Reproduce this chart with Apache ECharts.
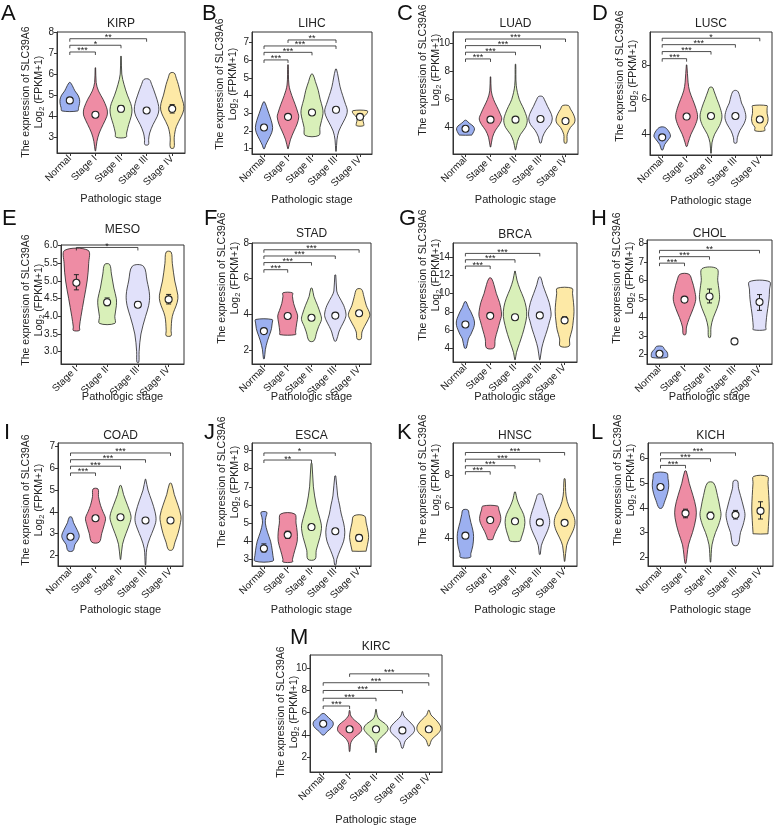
<!DOCTYPE html>
<html><head><meta charset="utf-8">
<script src="https://cdn.jsdelivr.net/npm/echarts@6/dist/echarts.min.js"></script>
<style>html,body{margin:0;padding:0;background:#fff}#c{width:777px;height:831px}</style>
</head><body><div id="c"></div>
<script>
// ---------- categories ----------
const STAGES5 = ['Normal', 'Stage I', 'Stage II', 'Stage III', 'Stage IV'];
const STAGES4 = ['Stage I', 'Stage II', 'Stage III', 'Stage IV'];

// ---------- A KIRP ----------
const KIRP_yRange = [2.25, 8];
const KIRP_yTicks = [3, 4, 5, 6, 7, 8];
const KIRP_violins = [
  [[5.6,0.02],[5.45,0.1],[5.2,0.2],[5.0,0.32],[4.8,0.38],[4.6,0.38],[4.4,0.34],[4.25,0.31]],
  [[6.3,0.01],[5.6,0.03],[5.2,0.12],[4.8,0.3],[4.4,0.44],[4.2,0.47],[4.0,0.45],[3.6,0.3],[3.2,0.15],[2.8,0.06],[2.35,0.01]],
  [[6.85,0.01],[6.0,0.03],[5.5,0.12],[5.0,0.25],[4.6,0.38],[4.3,0.43],[4.0,0.4],[3.6,0.3],[3.2,0.22],[3.0,0.2]],
  [[5.75,0.1],[5.5,0.2],[5.0,0.35],[4.6,0.45],[4.3,0.48],[4.0,0.42],[3.6,0.25],[3.2,0.12],[2.9,0.08],[2.65,0.07]],
  [[6.05,0.08],[5.8,0.16],[5.5,0.24],[5.0,0.34],[4.6,0.44],[4.3,0.45],[4.0,0.36],[3.5,0.16],[3.0,0.08],[2.5,0.07]]
];
const KIRP_medians = [4.75, 4.07, 4.35, 4.27, 4.35];
const KIRP_errors = [null, null, [4.2, 4.5], null, [4.15, 4.55]];
const KIRP_brackets = [[0,1,7.05,'***'],[0,2,7.37,'*'],[0,3,7.68,'**']];

// ---------- B LIHC ----------
const LIHC_yRange = [0.7, 7.6];
const LIHC_yTicks = [1, 2, 3, 4, 5, 6, 7];
const LIHC_violins = [
  [[3.65,0.02],[3.4,0.1],[3.0,0.2],[2.6,0.3],[2.2,0.36],[1.9,0.32],[1.5,0.18],[1.2,0.07],[1.0,0.02]],
  [[5.75,0.01],[4.6,0.04],[4.0,0.16],[3.5,0.3],[3.0,0.42],[2.8,0.45],[2.4,0.38],[2.0,0.25],[1.5,0.1],[1.0,0.01]],
  [[5.2,0.04],[4.8,0.14],[4.3,0.26],[3.8,0.34],[3.3,0.44],[3.0,0.46],[2.6,0.4],[2.2,0.33],[1.75,0.29]],
  [[5.5,0.02],[5.0,0.1],[4.5,0.17],[4.0,0.28],[3.5,0.4],[3.2,0.47],[2.9,0.44],[2.5,0.3],[2.0,0.12],[1.5,0.04],[0.85,0.01]],
  [[3.15,0.3],[3.0,0.3],[2.85,0.18],[2.65,0.12],[2.45,0.15],[2.3,0.15]]
];
const LIHC_medians = [2.2, 2.8, 3.05, 3.2, 2.8];
const LIHC_errors = [null, null, null, null, [2.68, 2.95]];
const LIHC_brackets = [[0,1,6.02,'***'],[0,2,6.45,'***'],[0,3,6.81,'***'],[1,3,7.15,'**']];

// ---------- C LUAD ----------
const LUAD_yRange = [2.1, 10.8];
const LUAD_yTicks = [4, 6, 8, 10];
const LUAD_violins = [
  [[4.5,0.03],[4.3,0.15],[4.1,0.3],[3.9,0.36],[3.7,0.33],[3.5,0.27],[3.45,0.25]],
  [[7.6,0.01],[6.6,0.03],[6.0,0.12],[5.5,0.25],[5.0,0.38],[4.6,0.45],[4.2,0.36],[3.8,0.2],[3.3,0.08],[2.6,0.01]],
  [[8.5,0.01],[7.0,0.03],[6.0,0.15],[5.5,0.28],[5.0,0.4],[4.5,0.47],[4.0,0.4],[3.5,0.2],[3.0,0.08],[2.4,0.01]],
  [[6.2,0.08],[6.0,0.15],[5.5,0.28],[5.0,0.42],[4.6,0.47],[4.2,0.4],[3.8,0.22],[3.3,0.08],[2.9,0.03]],
  [[5.55,0.12],[5.3,0.2],[5.0,0.3],[4.6,0.38],[4.3,0.35],[4.0,0.2],[3.5,0.07],[2.9,0.05]]
];
const LUAD_medians = [3.9, 4.55, 4.55, 4.6, 4.45];
const LUAD_errors = [null, null, null, null, null];
const LUAD_brackets = [[0,1,8.88,'***'],[0,2,9.36,'***'],[0,3,9.83,'***'],[0,4,10.3,'***']];

// ---------- D LUSC ----------
const LUSC_yRange = [2.8, 9.9];
const LUSC_yTicks = [4, 6, 8];
const LUSC_violins = [
  [[4.4,0.1],[4.2,0.25],[3.9,0.34],[3.7,0.26],[3.4,0.1],[3.1,0.03]],
  [[8.0,0.01],[7.0,0.06],[6.5,0.12],[6.0,0.25],[5.5,0.38],[5.0,0.45],[4.5,0.35],[4.0,0.18],[3.5,0.06],[3.3,0.02]],
  [[6.7,0.06],[6.5,0.12],[6.0,0.25],[5.5,0.38],[5.0,0.45],[4.5,0.35],[4.0,0.15],[3.5,0.04],[2.9,0.01]],
  [[6.5,0.08],[6.2,0.18],[5.8,0.25],[5.5,0.35],[5.0,0.43],[4.6,0.35],[4.2,0.18],[3.8,0.08],[3.5,0.05]],
  [[5.65,0.3],[5.5,0.3],[5.2,0.3],[4.9,0.34],[4.6,0.3],[4.4,0.2],[4.2,0.2]]
];
const LUSC_medians = [3.82, 5.02, 5.05, 5.05, 4.85];
const LUSC_errors = [null, null, null, null, [4.7, 5.0]];
const LUSC_brackets = [[0,1,8.36,'***'],[0,2,8.77,'***'],[0,3,9.17,'***'],[0,4,9.54,'*']];

// ---------- E MESO ----------
const MESO_yRange = [2.65, 6.02];
const MESO_yTicks = [3.0, 3.5, 4.0, 4.5, 5.0, 5.5, 6.0];
const MESO_violins = [
  [[5.87,0.38],[5.5,0.4],[5.0,0.35],[4.5,0.25],[4.0,0.15],[3.7,0.1],[3.6,0.1]],
  [[5.47,0.08],[5.2,0.14],[4.8,0.22],[4.5,0.3],[4.3,0.3],[4.0,0.25],[3.8,0.25]],
  [[5.42,0.18],[5.0,0.3],[4.6,0.38],[4.3,0.35],[4.0,0.25],[3.5,0.1],[3.0,0.04],[2.7,0.03]],
  [[5.82,0.08],[5.5,0.12],[5.0,0.2],[4.6,0.3],[4.4,0.28],[4.0,0.12],[3.6,0.08],[3.45,0.08]]
];
const MESO_medians = [4.95, 4.4, 4.33, 4.48];
const MESO_errors = [[4.75, 5.18], [4.3, 4.52], [4.25, 4.42], [4.35, 4.62]];
const MESO_brackets = [[0,2,5.95,'*']];

// ---------- F STAD ----------
const STAD_yRange = [1.2, 8];
const STAD_yTicks = [2, 4, 6, 8];
const STAD_violins = [
  [[3.7,0.35],[3.5,0.35],[3.2,0.32],[3.0,0.28],[2.5,0.15],[2.0,0.06],[1.5,0.02]],
  [[5.2,0.2],[5.0,0.2],[4.6,0.25],[4.2,0.35],[3.9,0.42],[3.5,0.38],[3.0,0.33],[2.85,0.33]],
  [[5.45,0.03],[5.0,0.1],[4.5,0.25],[4.0,0.38],[3.7,0.42],[3.3,0.3],[3.0,0.22],[2.5,0.1]],
  [[6.2,0.02],[5.3,0.06],[5.0,0.15],[4.5,0.35],[4.0,0.45],[3.7,0.4],[3.3,0.25],[3.0,0.15],[2.5,0.04]],
  [[5.4,0.1],[5.0,0.2],[4.5,0.3],[4.0,0.45],[3.7,0.38],[3.3,0.22],[3.0,0.12],[2.6,0.08]]
];
const STAD_medians = [3.05, 3.9, 3.8, 3.92, 4.05];
const STAD_errors = [null, null, null, null, null];
const STAD_brackets = [[0,1,6.5,'***'],[0,2,6.9,'***'],[0,3,7.27,'***'],[0,4,7.62,'***']];

// ---------- G BRCA ----------
const BRCA_yRange = [2.45, 15.6];
const BRCA_yTicks = [4, 6, 8, 10, 12, 14];
const BRCA_violins = [
  [[9.1,0.03],[8.5,0.12],[8.0,0.22],[7.5,0.3],[7.0,0.36],[6.5,0.36],[6.0,0.3],[5.5,0.22],[5.0,0.12],[4.0,0.04]],
  [[11.7,0.05],[11.0,0.15],[10.0,0.25],[9.0,0.38],[8.0,0.45],[7.5,0.45],[7.0,0.4],[6.0,0.3],[5.0,0.2],[4.0,0.15]],
  [[12.5,0.01],[11.5,0.08],[10.5,0.2],[9.5,0.35],[8.5,0.45],[7.5,0.47],[6.5,0.4],[5.5,0.3],[4.5,0.18],[3.5,0.06],[2.7,0.01]],
  [[11.8,0.04],[11.0,0.12],[10.0,0.25],[9.0,0.38],[8.0,0.45],[7.5,0.45],[7.0,0.4],[6.0,0.3],[5.0,0.18],[4.0,0.08],[2.7,0.01]],
  [[10.6,0.3],[10.0,0.32],[9.0,0.36],[8.0,0.38],[7.0,0.35],[6.0,0.3],[5.0,0.2],[4.2,0.18]]
];
const BRCA_medians = [6.6, 7.55, 7.4, 7.6, 7.05];
const BRCA_errors = [null, null, null, null, [6.7, 7.45]];
const BRCA_brackets = [[0,1,13.05,'***'],[0,2,13.75,'***'],[0,3,14.45,'***']];

// ---------- H CHOL ----------
const CHOL_yRange = [1.5, 8.2];
const CHOL_yTicks = [2, 3, 4, 5, 6, 7, 8];
const CHOL_violins = [
  [[2.45,0.12],[2.3,0.2],[2.15,0.3],[2.0,0.33],[1.85,0.3]],
  [[6.35,0.18],[6.0,0.3],[5.5,0.4],[5.0,0.45],[4.5,0.35],[4.0,0.2],[3.5,0.08],[3.1,0.05]],
  [[6.65,0.3],[6.0,0.33],[5.5,0.38],[5.0,0.4],[4.5,0.3],[4.0,0.15],[3.5,0.06],[2.95,0.04]],
  null,
  [[5.95,0.4],[5.5,0.4],[5.0,0.38],[4.5,0.33],[4.0,0.28],[3.5,0.25],[3.35,0.25]]
];
const CHOL_medians = [2.05, 4.98, 5.15, 2.72, 4.85];
const CHOL_errors = [null, [4.85, 5.15], [4.8, 5.55], null, [4.4, 5.25]];
const CHOL_brackets = [[0,1,6.95,'***'],[0,2,7.3,'***'],[0,4,7.64,'**']];

// ---------- I COAD ----------
const COAD_yRange = [1.5, 7.17];
const COAD_yTicks = [2, 3, 4, 5, 6, 7];
const COAD_violins = [
  [[3.75,0.05],[3.5,0.12],[3.2,0.25],[2.9,0.35],[2.7,0.3],[2.5,0.18],[2.2,0.1]],
  [[5.05,0.1],[4.7,0.12],[4.3,0.2],[4.0,0.3],[3.7,0.4],[3.4,0.35],[3.0,0.25],[2.6,0.15]],
  [[5.2,0.03],[4.8,0.12],[4.3,0.28],[3.8,0.42],[3.5,0.38],[3.0,0.22],[2.5,0.08],[1.8,0.01]],
  [[5.5,0.01],[5.0,0.1],[4.5,0.25],[4.0,0.38],[3.6,0.42],[3.2,0.32],[2.8,0.18],[2.3,0.05],[1.55,0.01]],
  [[5.3,0.04],[4.8,0.15],[4.3,0.3],[3.8,0.42],[3.5,0.4],[3.0,0.3],[2.6,0.18],[2.25,0.08]]
];
const COAD_medians = [2.85, 3.7, 3.75, 3.6, 3.6];
const COAD_errors = [null, null, null, null, null];
const COAD_brackets = [[0,1,5.79,'***'],[0,2,6.1,'***'],[0,3,6.4,'***'],[0,4,6.71,'***']];

// ---------- J ESCA ----------
const ESCA_yRange = [2.63, 9.42];
const ESCA_yTicks = [3, 4, 5, 6, 7, 8, 9];
const ESCA_violins = [
  [[5.6,0.12],[5.3,0.08],[5.0,0.06],[4.5,0.15],[4.0,0.28],[3.5,0.35],[3.2,0.38],[2.9,0.38]],
  [[5.5,0.3],[5.0,0.35],[4.5,0.4],[4.0,0.4],[3.5,0.3],[3.0,0.2],[2.85,0.2]],
  [[8.3,0.02],[7.0,0.08],[6.0,0.2],[5.5,0.3],[5.0,0.4],[4.7,0.42],[4.2,0.35],[3.5,0.2],[3.0,0.15]],
  [[7.6,0.02],[6.5,0.1],[6.0,0.18],[5.5,0.25],[5.0,0.35],[4.5,0.4],[4.0,0.35],[3.5,0.2],[3.0,0.06],[2.7,0.03]],
  [[5.4,0.22],[5.0,0.3],[4.5,0.38],[4.2,0.4],[3.8,0.35],[3.5,0.3],[3.45,0.3]]
];
const ESCA_medians = [3.6, 4.35, 4.78, 4.55, 4.18];
const ESCA_errors = [[3.4, 3.85], [4.15, 4.55], [4.68, 4.88], [4.45, 4.65], [4.0, 4.35]];
const ESCA_brackets = [[0,2,8.48,'**'],[0,3,8.87,'*']];

// ---------- K HNSC ----------
const HNSC_yRange = [2.2, 10.1];
const HNSC_yTicks = [4, 6, 8];
const HNSC_violins = [
  [[5.8,0.1],[5.5,0.15],[5.0,0.22],[4.5,0.3],[4.1,0.33],[3.5,0.3],[3.0,0.22],[2.75,0.2]],
  [[6.05,0.3],[5.8,0.35],[5.4,0.42],[5.1,0.42],[4.8,0.35],[4.4,0.22],[4.0,0.12],[3.9,0.1]],
  [[6.95,0.02],[6.5,0.08],[6.0,0.2],[5.5,0.35],[5.0,0.4],[4.5,0.35],[4.0,0.25],[3.8,0.2]],
  [[6.8,0.08],[6.5,0.15],[6.0,0.25],[5.5,0.35],[5.0,0.4],[4.5,0.32],[4.0,0.18],[3.5,0.06],[2.95,0.02]],
  [[7.8,0.02],[6.7,0.06],[6.0,0.18],[5.5,0.35],[5.0,0.42],[4.5,0.35],[4.0,0.2],[3.5,0.08],[2.5,0.01]]
];
const HNSC_medians = [4.15, 5.15, 5.07, 5.0, 4.97];
const HNSC_errors = [null, null, null, null, null];
const HNSC_brackets = [[0,1,8.26,'***'],[0,2,8.64,'***'],[0,3,9.06,'***'],[0,4,9.49,'***']];

// ---------- L KICH ----------
const KICH_yRange = [1.64, 6.64];
const KICH_yTicks = [2, 3, 4, 5, 6];
const KICH_violins = [
  [[5.42,0.25],[5.2,0.3],[4.9,0.33],[4.6,0.28],[4.3,0.18],[4.0,0.06]],
  [[5.5,0.03],[5.0,0.15],[4.5,0.3],[4.0,0.42],[3.6,0.42],[3.0,0.28],[2.5,0.12],[1.75,0.02]],
  [[5.02,0.12],[4.5,0.28],[4.0,0.38],[3.7,0.42],[3.3,0.32],[3.0,0.2],[2.5,0.06],[1.8,0.01]],
  [[5.1,0.08],[4.8,0.12],[4.5,0.2],[4.0,0.33],[3.7,0.38],[3.3,0.3],[3.0,0.2],[2.5,0.1]],
  [[5.28,0.28],[5.0,0.3],[4.5,0.33],[4.0,0.35],[3.5,0.33],[3.0,0.3],[2.95,0.3]]
];
const KICH_medians = [4.85, 3.78, 3.68, 3.72, 3.88];
const KICH_errors = [null, [3.6, 3.95], [3.55, 3.83], [3.55, 3.9], [3.55, 4.25]];
const KICH_brackets = [[0,1,5.73,'***'],[0,2,6.0,'***'],[0,3,6.24,'***']];

// ---------- M KIRC ----------
const KIRC_yRange = [0.65, 11.2];
const KIRC_yTicks = [2, 4, 6, 8, 10];
const KIRC_violins = [
  [[5.9,0.05],[5.5,0.22],[5.2,0.36],[4.9,0.38],[4.6,0.3],[4.3,0.15],[4.0,0.04]],
  [[6.2,0.01],[5.7,0.05],[5.3,0.2],[4.9,0.4],[4.5,0.46],[4.2,0.4],[3.8,0.2],[3.3,0.05],[2.5,0.01]],
  [[6.3,0.01],[5.8,0.04],[5.4,0.12],[5.0,0.35],[4.6,0.46],[4.2,0.38],[3.8,0.2],[3.3,0.05],[2.4,0.01]],
  [[6.1,0.01],[5.7,0.06],[5.3,0.22],[4.8,0.42],[4.4,0.46],[4.0,0.35],[3.5,0.12],[2.8,0.02]],
  [[6.2,0.02],[5.8,0.08],[5.4,0.25],[4.9,0.42],[4.5,0.45],[4.1,0.35],[3.6,0.12],[3.0,0.02]]
];
const KIRC_medians = [5.0, 4.5, 4.5, 4.4, 4.5];
const KIRC_errors = [null, null, null, null, null];
const KIRC_brackets = [[0,1,6.6,'***'],[0,2,7.3,'***'],[0,3,8.0,'***'],[0,4,8.7,'***'],[1,4,9.5,'***']];

// ---------- colours ----------
const C_NORMAL = '#9cb0f0', C_S1 = '#ee8ca4', C_S2 = '#d9f0b9', C_S3 = '#e1e1fa', C_S4 = '#fde9a6';
const COLORS5 = [C_NORMAL, C_S1, C_S2, C_S3, C_S4];
const COLORS4 = [C_S1, C_S2, C_S3, C_S4];
const COLORS_CHOL = [C_NORMAL, C_S1, C_S2, C_S3, C_S3];

// ---------- layout (positions only) ----------
// box: [left, top, width, height]; lp: panel letter; yn: y-name block centre; tt: title centre y
const PANELS = [
  {L:'A', T:'KIRP', cats:STAGES5, v:KIRP_violins, m:KIRP_medians, e:KIRP_errors, b:KIRP_brackets, yt:KIRP_yTicks, yr:KIRP_yRange, col:COLORS5, box:[57,32,128,121], lp:[1,3], yn:[33,92], tt:24, xg:40},
  {L:'B', T:'LIHC', cats:STAGES5, v:LIHC_violins, m:LIHC_medians, e:LIHC_errors, b:LIHC_brackets, yt:LIHC_yTicks, yr:LIHC_yRange, col:COLORS5, box:[252,32,120,122], lp:[202,3], yn:[227,84], tt:24, xg:40},
  {L:'C', T:'LUAD', cats:STAGES5, v:LUAD_violins, m:LUAD_medians, e:LUAD_errors, b:LUAD_brackets, yt:LUAD_yTicks, yr:LUAD_yRange, col:COLORS5, box:[453,32,125,122], lp:[397,3], yn:[430,70], tt:24, xg:40},
  {L:'D', T:'LUSC', cats:STAGES5, v:LUSC_violins, m:LUSC_medians, e:LUSC_errors, b:LUSC_brackets, yt:LUSC_yTicks, yr:LUSC_yRange, col:COLORS5, box:[650,32,122,123], lp:[592,3], yn:[627,76], tt:24, xg:40},
  {L:'E', T:'MESO', cats:STAGES4, v:MESO_violins, m:MESO_medians, e:MESO_errors, b:MESO_brackets, yt:MESO_yTicks, yr:MESO_yRange, col:COLORS4, box:[61,245,123,119], lp:[2,208], yn:[33,300], tt:230, xg:27},
  {L:'F', T:'STAD', cats:STAGES5, v:STAD_violins, m:STAD_medians, e:STAD_errors, b:STAD_brackets, yt:STAD_yTicks, yr:STAD_yRange, col:COLORS5, box:[252,243,119,121], lp:[204,208], yn:[229,278], tt:234, xg:27},
  {L:'G', T:'BRCA', cats:STAGES5, v:BRCA_violins, m:BRCA_medians, e:BRCA_errors, b:BRCA_brackets, yt:BRCA_yTicks, yr:BRCA_yRange, col:COLORS5, box:[453,243,124,119], lp:[399,208], yn:[430,275], tt:235, xg:29},
  {L:'H', T:'CHOL', cats:STAGES5, v:CHOL_violins, m:CHOL_medians, e:CHOL_errors, b:CHOL_brackets, yt:CHOL_yTicks, yr:CHOL_yRange, col:COLORS_CHOL, box:[647,240,125,124], lp:[591,208], yn:[624,278], tt:234, xg:27},
  {L:'I', T:'COAD', cats:STAGES5, v:COAD_violins, m:COAD_medians, e:COAD_errors, b:COAD_brackets, yt:COAD_yTicks, yr:COAD_yRange, col:COLORS5, box:[58,443,125,123], lp:[4,422], yn:[33,500], tt:436, xg:38},
  {L:'J', T:'ESCA', cats:STAGES5, v:ESCA_violins, m:ESCA_medians, e:ESCA_errors, b:ESCA_brackets, yt:ESCA_yTicks, yr:ESCA_yRange, col:COLORS5, box:[252,443,119,123], lp:[204,422], yn:[229,482], tt:436, xg:38},
  {L:'K', T:'HNSC', cats:STAGES5, v:HNSC_violins, m:HNSC_medians, e:HNSC_errors, b:HNSC_brackets, yt:HNSC_yTicks, yr:HNSC_yRange, col:COLORS5, box:[453,443,124,123], lp:[397,422], yn:[430,480], tt:436, xg:38},
  {L:'L', T:'KICH', cats:STAGES5, v:KICH_violins, m:KICH_medians, e:KICH_errors, b:KICH_brackets, yt:KICH_yTicks, yr:KICH_yRange, col:COLORS5, box:[648,443,125,123], lp:[591,422], yn:[625,480], tt:436, xg:38},
  {L:'M', T:'KIRC', cats:STAGES5, v:KIRC_violins, m:KIRC_medians, e:KIRC_errors, b:KIRC_brackets, yt:KIRC_yTicks, yr:KIRC_yRange, col:COLORS5, box:[310,655,132,117], lp:[290,627], yn:[288,712], tt:647, xg:42}
];

const FONT = '"Liberation Sans", Arial, Helvetica, sans-serif';
const INK = '#222';
const YNAME = '{n|The expression of SLC39A6}\n{n|Log}{s|2}{n| (FPKM+1)}';
const chart = echarts.init(document.getElementById('c'), null, {renderer: 'canvas'});
const grids = [], xAxes = [], yAxes = [], series = [], graphics = [];

PANELS.forEach((p, k) => {
  const [l, t, w, h] = p.box;
  grids.push({left: l, top: t, width: w, height: h, show: true, borderColor: '#333', borderWidth: 1,
    containLabel: false, outerBoundsMode: 'none'});
  xAxes.push({
    gridIndex: k, type: 'category', data: p.cats, boundaryGap: true,
    axisLine: {show: true, lineStyle: {color: '#333', width: 1}},
    axisTick: {show: true, alignWithLabel: true, length: 3, lineStyle: {color: '#333'}},
    axisLabel: {rotate: 45, interval: 0, fontSize: 10, color: INK, margin: 4, fontFamily: FONT},
    splitLine: {show: false},
    name: 'Pathologic stage', nameLocation: 'middle', nameGap: p.xg, nameMoveOverlap: false,
    nameTextStyle: {fontSize: 11, color: INK, fontFamily: FONT}
  });
  const dec = p.T === 'MESO';
  yAxes.push({
    gridIndex: k, type: 'value', min: p.yr[0], max: p.yr[1],
    axisLine: {show: true, lineStyle: {color: '#333', width: 1}},
    axisTick: {show: true, length: 3, lineStyle: {color: '#333'}, customValues: p.yt},
    axisLabel: {customValues: p.yt, fontSize: 10, color: INK, margin: 3, fontFamily: FONT,
      formatter: v => dec ? Number(v).toFixed(1) : String(v)},
    splitLine: {show: false}
  });

  // violins
  series.push({
    type: 'custom', xAxisIndex: k, yAxisIndex: k, clip: false, silent: true, z: 2,
    data: p.v.map((prof, i) => [i, p.m[i]]),
    renderItem: (params, api) => {
      const i = params.dataIndex;
      const prof = p.v[i];
      if (!prof) return null;
      const cat = api.value(0);
      const band = api.size([1, 0])[0];
      const right = [], left = [];
      prof.forEach(([y, hw]) => {
        const c = api.coord([cat, y]);
        right.push([c[0] + hw * band, c[1]]);
        left.push([c[0] - hw * band, c[1]]);
      });
      return {type: 'polygon', shape: {points: right.concat(left.reverse()), smooth: 0.35},
        style: {fill: p.col[i], stroke: INK, lineWidth: 0.8}};
    }
  });

  // error bars
  const eData = [];
  p.e.forEach((r, i) => { if (r) eData.push([i, r[0], r[1]]); });
  if (eData.length) {
    series.push({
      type: 'custom', xAxisIndex: k, yAxisIndex: k, clip: false, silent: true, z: 3,
      data: eData,
      renderItem: (params, api) => {
        const lo = api.coord([api.value(0), api.value(1)]);
        const hi = api.coord([api.value(0), api.value(2)]);
        const cw = 2.5;
        return {type: 'group', children: [
          {type: 'line', shape: {x1: lo[0], y1: lo[1], x2: hi[0], y2: hi[1]}, style: {stroke: INK, lineWidth: 1}},
          {type: 'line', shape: {x1: lo[0] - cw, y1: lo[1], x2: lo[0] + cw, y2: lo[1]}, style: {stroke: INK, lineWidth: 1}},
          {type: 'line', shape: {x1: hi[0] - cw, y1: hi[1], x2: hi[0] + cw, y2: hi[1]}, style: {stroke: INK, lineWidth: 1}}
        ]};
      }
    });
  }

  // medians
  series.push({
    type: 'scatter', xAxisIndex: k, yAxisIndex: k, silent: true, z: 4,
    data: p.m.map((v, i) => [i, v]), symbol: 'circle', symbolSize: 7,
    itemStyle: {color: '#fff', borderColor: INK, borderWidth: 1.1, opacity: 1}
  });

  // significance brackets
  series.push({
    type: 'custom', xAxisIndex: k, yAxisIndex: k, clip: false, silent: true, z: 5,
    data: p.b.map(b => [b[0], b[1], b[2]]),
    renderItem: (params, api) => {
      const b = p.b[params.dataIndex];
      const a = api.coord([b[0], b[2]]), c = api.coord([b[1], b[2]]);
      const tk = 3;
      return {type: 'group', children: [
        {type: 'polyline', shape: {points: [[a[0], a[1] + tk], [a[0], a[1]], [c[0], c[1]], [c[0], c[1] + tk]]},
          style: {stroke: INK, lineWidth: 0.8, fill: null}},
        {type: 'text', x: (a[0] + c[0]) / 2, y: a[1] - 1,
          style: {text: b[3], fill: INK, font: '9px ' + FONT, align: 'center', verticalAlign: 'middle'}}
      ]};
    }
  });

  // titles, y names and panel letters
  graphics.push({type: 'text', x: l + w / 2, y: p.tt, silent: true,
    style: {text: p.T, fill: INK, font: '12px ' + FONT, align: 'center', verticalAlign: 'middle'}});
  graphics.push({type: 'text', x: p.yn[0], y: p.yn[1], rotation: Math.PI / 2, silent: true,
    style: {text: YNAME, fill: INK, align: 'center', verticalAlign: 'middle',
      rich: {n: {fontSize: 10.5, fontFamily: FONT, fill: INK, lineHeight: 13},
             s: {fontSize: 7.5, fontFamily: FONT, fill: INK, lineHeight: 13, verticalAlign: 'bottom', padding: [5, 0, 0, 0]}}}});
  graphics.push({type: 'text', x: p.lp[0], y: p.lp[1], silent: true,
    style: {text: p.L, fill: '#111', font: '22px ' + FONT, align: 'left', verticalAlign: 'top'}});
});

chart.setOption({
  backgroundColor: '#fff',
  animation: false,
  grid: grids, xAxis: xAxes, yAxis: yAxes, series: series,
  graphic: graphics
});
</script></body></html>
